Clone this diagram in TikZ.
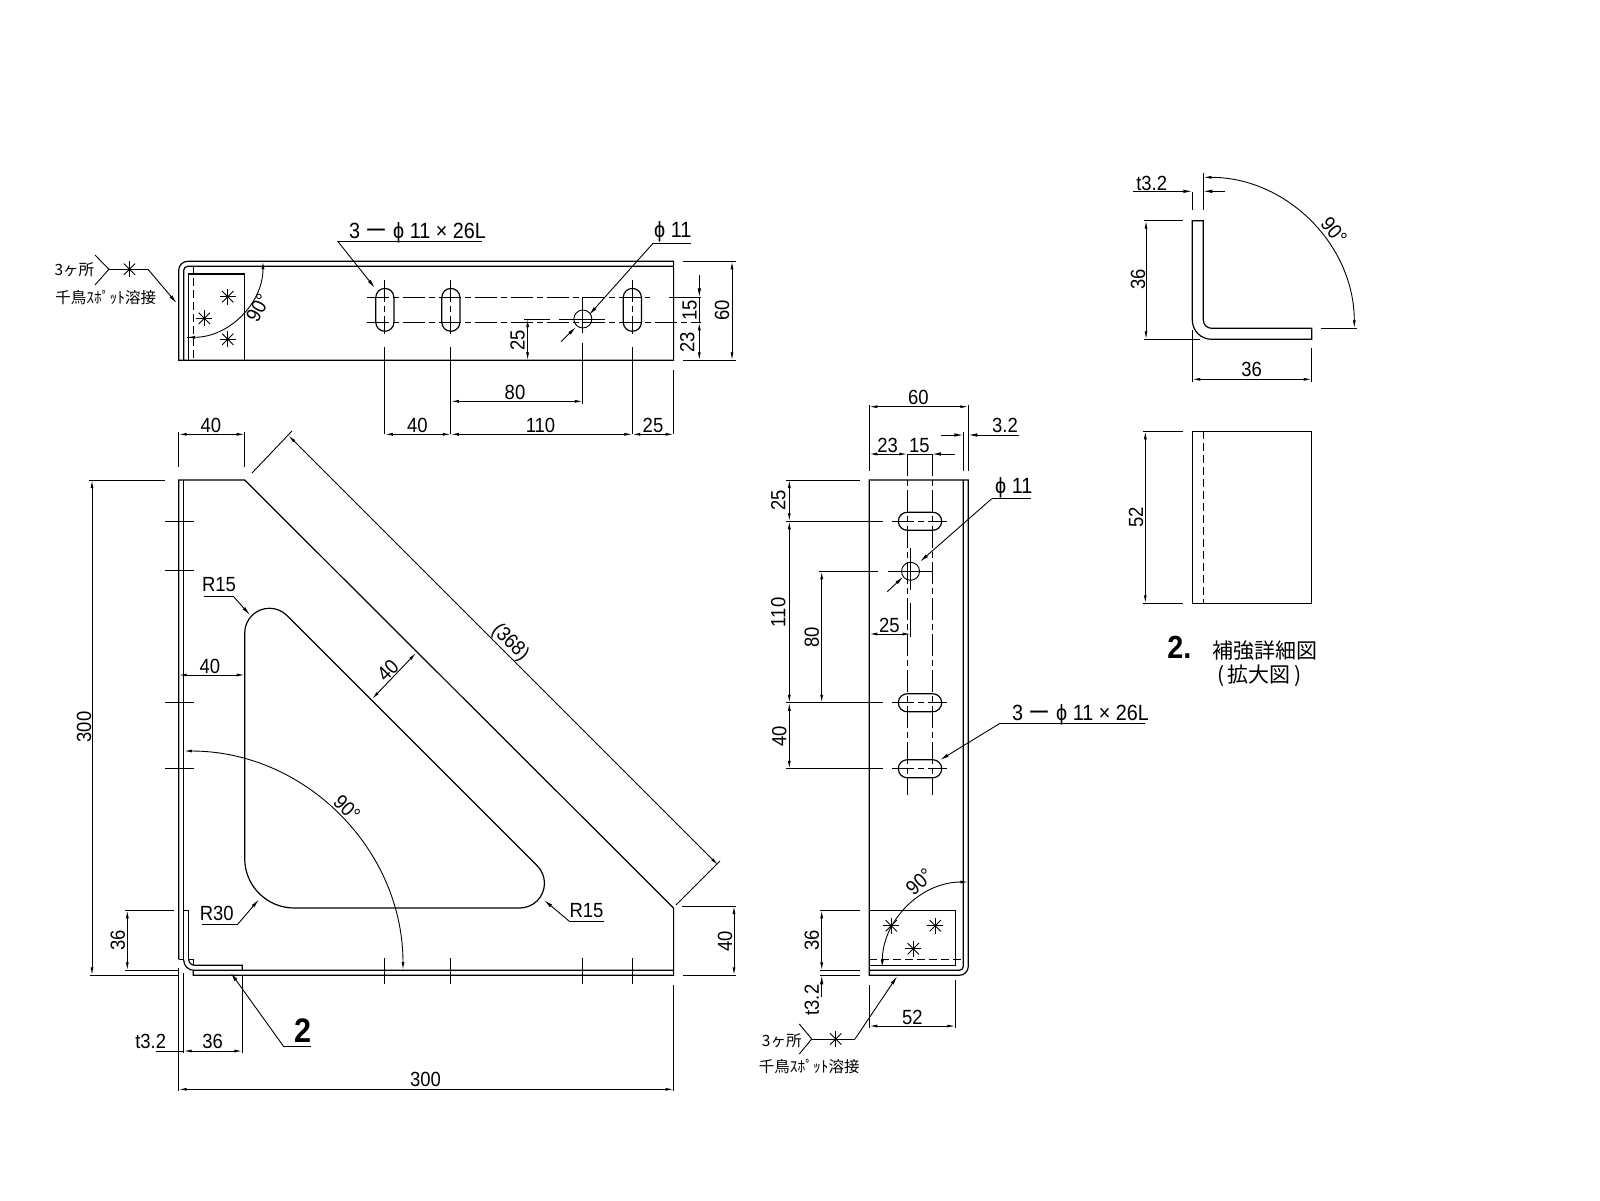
\documentclass[tikz,border=0pt]{standalone}
\usepackage{fontspec}
\setmainfont[FakeStretch=0.9]{Liberation Sans}
\newfontfamily\cjk{Noto Sans CJK JP}
\usetikzlibrary{arrows.meta}
\tikzset{
  part/.style={line width=1.2pt},
  thinline/.style={line width=0.9pt},
  dimline/.style={thinline, {Latex[length=8pt,width=3pt]}-{Latex[length=8pt,width=3pt]}},
  leader/.style={thinline, -{Latex[length=9pt,width=3.5pt]}},
  axisline/.style={thinline, dash pattern=on 22pt off 4pt on 6pt off 4pt},
  hidden/.style={thinline, dash pattern=on 8pt off 4pt},
  dimtext/.style={inner sep=0pt, font=\fontsize{20.5}{20.5}\selectfont},
  holetext/.style={inner sep=0pt, font=\fontsize{22}{22}\selectfont},
  noteh/.style={inner sep=0pt, font=\cjk\fontsize{15.5}{15.5}\selectfont},
  title/.style={inner sep=0pt, font=\cjk\fontsize{21}{21}\selectfont},
  weldmark/.pic={\foreach \a in {0,45,90,135} \draw[thinline] (\a:8) -- (\a+180:8);}
}
\begin{document}
\begin{tikzpicture}[x=1pt,y=-1pt]
  \useasboundingbox (0,0) rectangle (1600,1200);

  % top view
  \draw[part] (178.7,360.3) -- (178.7,270.3) arc[start angle=180,end angle=270,radius=9]
    -- (673.6,261.3) -- (673.6,360.3) -- cycle;
  \draw[part] (183.7,360.3) -- (183.7,270.3) arc[start angle=180,end angle=270,radius=4] -- (673.6,266.3);
  \draw[part] (188.7,360.3) -- (188.7,274) -- (244.7,274) -- (244.7,360.3);
  \draw[hidden] (193.3,266.3) -- (193.3,360.3);
  \foreach \x in {384.85,450.85,632.35}
  {\draw[part, rounded corners=9.07pt] ({\x-9.07},288.4) rectangle ({\x+9.07},331.3);
   \draw[axisline] (\x,280) -- (\x,334);
   \draw[thinline] (\x,346.7) -- (\x,434.3);}
  \draw[thinline] (582.85,319) circle (9);
  \draw[axisline] (367,297.3) -- (650,297.3);
  \draw[axisline] (367,322.3) -- (701,322.3);
  \draw[thinline] (669,297.3) -- (701,297.3);
  \draw[thinline] (582.85,297) -- (582.85,333);
  \draw[thinline] (582.85,343) -- (582.85,404);
  \draw[thinline] (524.4,319) -- (549.6,319) (558.8,319) -- (604.7,319);
  \draw[thinline] (673.6,370) -- (673.6,434.3);
  \draw[thinline] (683,261.3) -- (735.6,261.3) (683,360.3) -- (735.6,360.3);
  % top view dimensions
  \draw[leader] (699.3,275) -- (699.3,297.3);
  \draw[thinline] (699.3,297.3) -- (699.3,322.3);
  \draw[dimline] (699.3,322.3) -- (699.3,360.3);
  \draw[dimline] (732,261.3) -- (732,360.3);
  \draw[dimline] (527.6,319) -- (527.6,360.3);
  \draw[dimline] (450.85,401.3) -- (582.85,401.3);
  \draw[dimline] (384.85,434.3) -- (450.85,434.3);
  \draw[dimline] (450.85,434.3) -- (632.35,434.3);
  \draw[dimline] (632.35,434.3) -- (673.6,434.3);
  \draw[thinline] (187,337.3) -- (193,337.3);
  \draw[dimline] (187,337.3) arc[start angle=90,end angle=0,radius=76];
  \node[dimtext, rotate=62] (topangle) at (258,308) {90°};
  \node[dimtext, rotate=90] (top15) at (689.7,310.7) {15};
  \node[dimtext, rotate=90] (top23) at (687.4,342.7) {23};
  \node[dimtext, rotate=90] (top60) at (722,310.7) {60};
  \node[dimtext, rotate=90] (top25) at (517.5,340) {25};
  \node[dimtext] (top80) at (515,392.7) {80};
  \node[dimtext] (top40) at (417.4,425.5) {40};
  \node[dimtext] (top110) at (540.5,425.5) {110};
  \node[dimtext] (topr25) at (653,425.5) {25};
  % top view weld marks
  \pic at (227.8,296.7) {weldmark};
  \pic at (204.4,318.3) {weldmark};
  \pic at (227.8,339.3) {weldmark};
  \pic at (129.5,269.3) {weldmark};
  \draw[thinline] (95,255) -- (108.9,269.3) -- (95,285);
  \draw[thinline] (108.9,269.3) -- (148,269.3);
  \draw[leader] (148,269.3) -- (176.8,303.3);
  \node[noteh] (topwelda) at (74.4,269.3) {3ヶ所};
  \node[noteh] (topweldb) at (105.7,297.3) {千鳥ｽﾎﾟｯﾄ溶接};
  % top view hole notes
  \node[holetext, anchor=west] (topslot) at (349,232.5) {3 {\cjk ー} ϕ 11 × 26L};
  \draw[thinline] (337.5,241) -- (481.7,241);
  \draw[leader] (337.5,241) -- (375,288);
  \node[holetext, anchor=west] (tophole) at (654,231.7) {ϕ 11};
  \draw[thinline] (653,243.3) -- (691,243.3);
  \draw[leader] (653,243.3) -- (589,315);
  \draw[leader] (561,341.7) -- (576,327);

  % front view
  \draw[part] (178.7,959.3) -- (178.7,480) -- (244.7,480) -- (673.6,908) -- (673.6,975.3) -- (193.3,975.3) -- (193.3,970.3);
  \draw[part] (183.7,480) -- (183.7,960);
  \draw[part] (178.7,959.3) -- (183.7,959.3);
  \draw[part] (183.7,910.3) -- (188.7,910.3) -- (188.7,959.3) -- (193.3,959.3) -- (193.3,965.3);
  \draw[part] (188.7,959.3) arc[start angle=180,end angle=90,radius=6] -- (242.3,965.3) -- (242.3,970.3);
  \draw[part] (183.7,960) arc[start angle=180,end angle=90,radius=10.3] -- (673.6,970.3);
  % opening
  \draw[part] (244.7,858.5) -- (244.7,633) arc[start angle=180,end angle=315,radius=24.75]
    -- (537.2,865.75) arc[start angle=-45,end angle=90,radius=24.75]
    -- (294.2,908) arc[start angle=90,end angle=180,radius=49.5];
  % slot and hole ticks
  \foreach \y in {521.25,570.75,702.75,768.75} \draw[thinline] (165,\y) -- (194,\y);
  \foreach \x in {384.85,450.85,582.85,632.35} \draw[thinline] (\x,958) -- (\x,984);
  % front view dimensions
  \draw[thinline] (178.7,432) -- (178.7,467) (244.7,432) -- (244.7,467);
  \draw[dimline] (178.7,434.3) -- (244.7,434.3);
  \node[dimtext] (fr40) at (210.8,425.5) {40};
  \draw[thinline] (89,480) -- (165,480) (90,975.3) -- (178.7,975.3);
  \draw[dimline] (92,480) -- (92,975.3);
  \node[dimtext, rotate=90] (fr300) at (84,727) {300};
  \draw[thinline] (252,473) -- (292,431) (676,905) -- (720,861);
  \draw[dimline] (288.5,435.5) -- (718,865);
  \node[dimtext, rotate=-45] (fr368) at (510,642.6) {(368)};
  \draw[dimline] (416,653) -- (372,699);
  \node[dimtext, rotate=45] (frd40) at (388,670) {40};
  \draw[dimline] (178.7,675) -- (244.7,675);
  \node[dimtext] (frl40) at (210,666) {40};
  \draw[dimline] (184,751) arc[start angle=-90,end angle=0,radius=219];
  \node[dimtext, rotate=-45] (frangle) at (347,808) {90°};
  \draw[thinline] (682,906) -- (736,906) (683,975.3) -- (736,975.3);
  \draw[dimline] (734,906) -- (734,975.3);
  \node[dimtext, rotate=90] (frr40) at (725,941) {40};
  \draw[thinline] (125,910.3) -- (174.3,910.3) (125,970.3) -- (178,970.3);
  \draw[dimline] (127.3,910.3) -- (127.3,970.3);
  \node[dimtext, rotate=90] (fr36) at (117.7,940) {36};
  \draw[thinline] (178.7,968) -- (178.7,1091) (183.7,973.3) -- (183.7,1053) (242.3,975) -- (242.3,1053) (673.6,985) -- (673.6,1091);
  \draw[thinline] (156,1051) -- (183.7,1051);
  \draw[dimline] (183.7,1051) -- (242.3,1051);
  \node[dimtext] (frt) at (150.7,1041) {t3.2};
  \node[dimtext] (frb36) at (212.7,1041) {36};
  \draw[dimline] (178.7,1089.3) -- (673.6,1089.3);
  \node[dimtext] (frb300) at (425.5,1079) {300};
  % radius notes
  \node[dimtext] (r15a) at (219,584.5) {R15};
  \draw[thinline] (204,596) -- (233,596);
  \draw[leader] (233,596) -- (250,615);
  \node[dimtext] (r30) at (216.7,913) {R30};
  \draw[thinline] (202,924.3) -- (237.7,924.3);
  \draw[leader] (237.7,924.3) -- (259,899.3);
  \node[dimtext] (r15b) at (586.5,911) {R15};
  \draw[thinline] (569,921) -- (604,921);
  \draw[leader] (569,921) -- (544,900);
  \node[inner sep=0pt, font=\bfseries\fontsize{34}{34}\selectfont] (detail) at (302.7,1030.7) {2};
  \draw[thinline] (310.7,1046) -- (283.3,1046);
  \draw[leader] (283.3,1046) -- (230.7,972.7);

  % side view
  \draw[part] (968.3,480) -- (968.3,966.3) arc[start angle=0,end angle=90,radius=9] -- (869.3,975.3) -- (869.3,480) -- cycle;
  \draw[part] (963.3,480) -- (963.3,966.3) arc[start angle=0,end angle=90,radius=4] -- (869.3,970.3);
  \draw[part] (869.3,910.3) -- (955.3,910.3) -- (955.3,965.3) -- (869.3,965.3);
  \draw[hidden] (869.3,959.3) -- (963.3,959.3);
  \foreach \y in {521.25,702.75,768.75}
  {\draw[part, rounded corners=9.07pt] (898.3,{\y-9.07}) rectangle (941.7,{\y+9.07});
   \draw[thinline] (786,\y) -- (883.3,\y);
   \draw[axisline] (892.3,\y) -- (946.7,\y);}
  \draw[thinline] (910.55,571.3) circle (9);
  \draw[axisline] (907.3,454) -- (907.3,795);
  \draw[axisline] (932,454) -- (932,795);
  \draw[thinline] (819,571.3) -- (878.3,571.3) (888.3,571.3) -- (933.3,571.3);
  \draw[thinline] (910.55,548.3) -- (910.55,590) (910.55,602.7) -- (910.55,636.7);
  % side view dimensions
  \draw[thinline] (869.3,405) -- (869.3,470.7) (968.3,405) -- (968.3,470.7) (963.3,431.7) -- (963.3,470.7);
  \draw[dimline] (869.3,406.7) -- (968.3,406.7);
  \node[dimtext] (sd60) at (918.3,397) {60};
  \draw[leader] (941,435) -- (963.3,435);
  \draw[leader] (1019.3,435) -- (968.3,435);
  \node[dimtext] (sd32) at (1005,425.7) {3.2};
  \draw[dimline] (869.3,454) -- (907.3,454);
  \draw[leader] (955,454) -- (932,454);
  \draw[thinline] (907.3,454) -- (932,454);
  \node[dimtext] (sd23) at (887.7,445.7) {23};
  \node[dimtext] (sd15) at (919.3,445.7) {15};
  \draw[thinline] (786,480) -- (860,480);
  \draw[dimline] (789.3,480) -- (789.3,521.25);
  \draw[dimline] (789.3,521.25) -- (789.3,702.75);
  \draw[dimline] (789.3,702.75) -- (789.3,768.75);
  \node[dimtext, rotate=90] (sdl25) at (778.3,500) {25};
  \node[dimtext, rotate=90] (sd110) at (778.3,612.3) {110};
  \node[dimtext, rotate=90] (sd40) at (779.3,736.7) {40};
  \draw[dimline] (821.7,571.3) -- (821.7,702.75);
  \node[dimtext, rotate=90] (sd80) at (811.7,637.3) {80};
  \draw[dimline] (869.3,634) -- (910.55,634);
  \node[dimtext] (sdh25) at (889.3,625) {25};
  \draw[dimline] (968.3,882) arc[start angle=270,end angle=180,radius=86];
  \node[dimtext, rotate=42] (sdangle) at (919.3,881.7) {90°};
  \draw[thinline] (820,910.3) -- (860,910.3) (820,970.3) -- (860,970.3) (820,975.3) -- (860,975.3);
  \draw[dimline] (821.7,910.3) -- (821.7,970.3);
  \node[dimtext, rotate=90] (sd36) at (811.7,940) {36};
  \draw[leader] (821.7,996.7) -- (821.7,975.3);
  \node[dimtext, rotate=90] (sdt) at (811.7,1000) {t3.2};
  \draw[thinline] (869.3,985) -- (869.3,1028.3) (955.3,980) -- (955.3,1028.3);
  \draw[dimline] (869.3,1026) -- (955.3,1026);
  \node[dimtext] (sd52) at (912.3,1017) {52};
  % side view weld marks
  \pic at (891.3,925.7) {weldmark};
  \pic at (935.3,925.7) {weldmark};
  \pic at (913.3,948.7) {weldmark};
  \pic at (835.7,1039) {weldmark};
  \draw[thinline] (799.3,1024) -- (811.7,1039) -- (799.3,1054);
  \draw[thinline] (811.7,1039) -- (855,1039);
  \draw[leader] (855,1039) -- (897.3,976);
  \node[noteh] (sdwelda) at (781.7,1041) {3ヶ所};
  \node[noteh] (sdweldb) at (809.3,1066.7) {千鳥ｽﾎﾟｯﾄ溶接};
  % side view hole notes
  \node[holetext, anchor=west] (sdhole) at (995,487.7) {ϕ 11};
  \draw[thinline] (991.7,498.7) -- (1031,498.7);
  \draw[leader] (991.7,498.7) -- (920,561.7);
  \draw[leader] (887.3,591.7) -- (903.3,576.7);
  \node[holetext, anchor=west] (sdslot) at (1012,714.5) {3 {\cjk ー} ϕ 11 × 26L};
  \draw[thinline] (1000,723.3) -- (1145,723.3);
  \draw[leader] (1000,723.3) -- (940,760);

  % detail section
  \draw[part] (1192.3,220.7) -- (1203.3,220.7) -- (1203.3,320) arc[start angle=180,end angle=90,radius=8.3]
    -- (1311.7,328.3) -- (1311.7,339.3) -- (1211.6,339.3) arc[start angle=90,end angle=180,radius=19.3] -- cycle;
  \draw[thinline] (1192.3,191.7) -- (1192.3,210) (1203.3,173.3) -- (1203.3,210);
  \draw[leader] (1133.3,191.3) -- (1192.3,191.3);
  \draw[leader] (1225,191.3) -- (1203.3,191.3);
  \node[dimtext] (dtt) at (1151.7,183) {t3.2};
  \draw[dimline] (1203.3,177.3) arc[start angle=-90,end angle=0,radius=151];
  \node[dimtext, rotate=-50] (dtangle) at (1334,231) {90°};
  \draw[thinline] (1321.3,328.3) -- (1356.7,328.3);
  \draw[thinline] (1144.3,220.7) -- (1182.7,220.7) (1144.3,339.3) -- (1200,339.3);
  \draw[dimline] (1146,220.7) -- (1146,339.3);
  \node[dimtext, rotate=90] (dt36) at (1138,279) {36};
  \draw[thinline] (1192.3,330) -- (1192.3,381.7) (1311.7,348.3) -- (1311.7,381.7);
  \draw[dimline] (1192.3,379.3) -- (1311.7,379.3);
  \node[dimtext] (dtb36) at (1251.7,369.3) {36};
  % detail plan
  \draw[part] (1192.3,431.3) rectangle (1311.7,603.3);
  \draw[hidden] (1203.3,431.3) -- (1203.3,603.3);
  \draw[thinline] (1143.3,431.3) -- (1182.7,431.3) (1143.3,603.3) -- (1182.7,603.3);
  \draw[dimline] (1145.3,431.3) -- (1145.3,603.3);
  \node[dimtext, rotate=90] (dt52) at (1136,517.7) {52};
  \node[inner sep=0pt, font=\bfseries\fontsize{32}{32}\selectfont] (dttitle) at (1179.3,647.3) {2.};
  \node[title] (dtname) at (1264.5,650.7) {補強詳細図};
  \node[title] (dtscale) at (1259.5,675.7) {(\hspace{3pt}拡大図\hspace{3pt})};
\end{tikzpicture}
\end{document}
